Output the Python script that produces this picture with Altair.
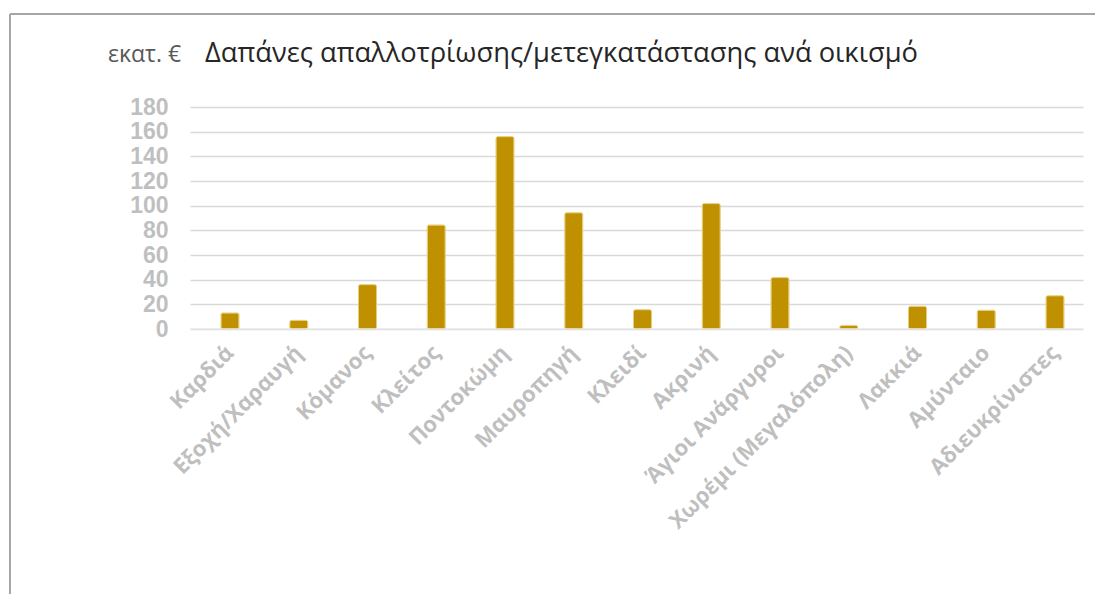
import altair as alt
import pandas as pd

categories = ["Καρδιά", "Εξοχή/Χαραυγή", "Κόμανος", "Κλείτος", "Ποντοκώμη",
              "Μαυροπηγή", "Κλειδί", "Ακρινή", "Άγιοι Ανάργυροι",
              "Χωρέμι (Μεγαλόπολη)", "Λακκιά", "Αμύνταιο", "Αδιευκρίνιστες"]
values = [13, 7, 36, 84.3, 156, 94.3, 15.7, 101.7, 41.7, 2.8, 18.4, 15.2, 27]
y_ticks = [0, 20, 40, 60, 80, 100, 120, 140, 160, 180]
unit_label = "εκατ. €"
title_text = "Δαπάνες απαλλοτρίωσης/μετεγκατάστασης ανά οικισμό"

df = pd.DataFrame({"cat": categories, "val": values})

W, H = 893, 222
PL, PT, PR, PB = 182, 99, 12, 265

x = alt.X("cat:N", sort=categories, title=None,
          scale=alt.Scale(paddingInner=0.738, paddingOuter=0.3635, align=0.62),
          axis=alt.Axis(labelAngle=-45, labelAlign="right", labelBaseline="middle",
                        labelPadding=20, labelFont="Open Sans", labelFontWeight="bold",
                        labelFontSize=22, labelColor="#BFBFBF", ticks=False,
                        domain=False, grid=False, labelLimit=400,
                        labelOverlap=False))
y = alt.Y("val:Q", title=None,
          scale=alt.Scale(domain=[0, 180], nice=False),
          axis=alt.Axis(values=y_ticks, tickCount=20, labelFont="Liberation Sans",
                        labelFontWeight="bold",
                        labelFontSize=23, labelColor="#BFBFBF", labelPadding=22,
                        labelOverlap=False, labelFlush=False, labelBound=False,
                        ticks=False, domain=False, gridColor="#D9D9D9",
                        gridWidth=1.6))

bars = alt.Chart(df).mark_bar(color="#BF9000", stroke="#E6CC7A", strokeWidth=1,
                              cornerRadius=2).encode(x=x, y=y)

zero = alt.Chart(pd.DataFrame({"v": [0]})).mark_rule(
    color="#E8E8E8", strokeWidth=1.6, opacity=0.8).encode(y=alt.Y("v:Q"))

frame_top = alt.Chart(pd.DataFrame({"a": [0]})).mark_rule(
    color="#A6A6A6", strokeWidth=2).encode(
    x=alt.value(-180), x2=alt.value(W + PR + 2), y=alt.value(-93))
frame_left = alt.Chart(pd.DataFrame({"a": [0]})).mark_rule(
    color="#A6A6A6", strokeWidth=2).encode(
    x=alt.value(-180), y=alt.value(-93), y2=alt.value(H + PB + 2))

unit = alt.Chart(pd.DataFrame({"t": [unit_label]})).mark_text(
    align="left", baseline="alphabetic", font="Open Sans", fontSize=23,
    color="#595959").encode(text="t:N", x=alt.value(-82), y=alt.value(-45))
title = alt.Chart(pd.DataFrame({"t": [title_text]})).mark_text(
    align="left", baseline="alphabetic", font="Open Sans", fontSize=27.3,
    color="#262626").encode(text="t:N", x=alt.value(15), y=alt.value(-45))

chart = alt.layer(bars, zero, frame_top, frame_left, unit, title).properties(
    width=W, height=H,
    autosize=alt.AutoSizeParams(type="none"),
    padding={"left": PL, "top": PT, "right": PR, "bottom": PB},
    background="white",
).configure_view(stroke=None)

chart.save("out.html", embed_options={"renderer": "svg", "actions": False})
